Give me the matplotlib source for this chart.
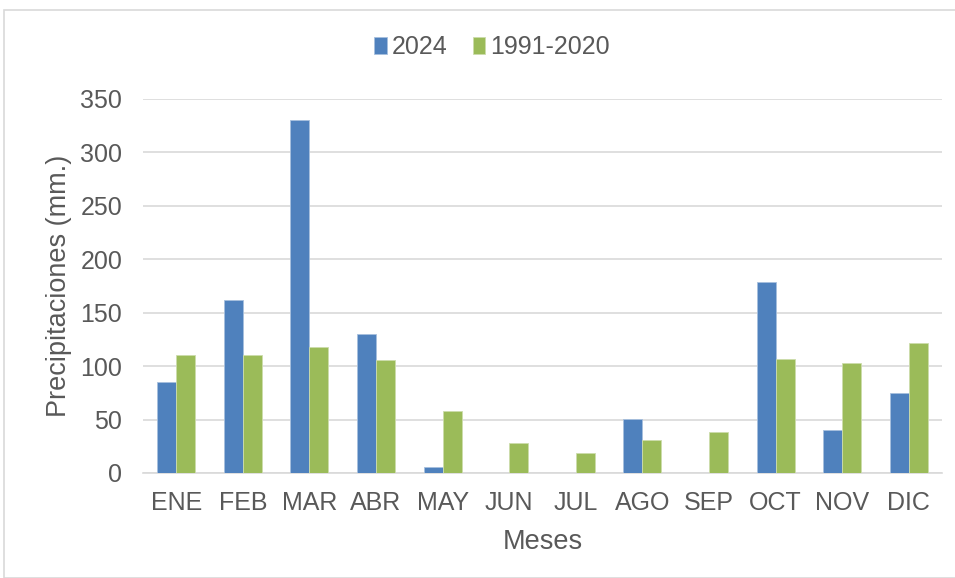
import numpy as np
import matplotlib.pyplot as plt
from matplotlib.patches import Rectangle

plt.rcParams['font.family'] = ['Liberation Sans', 'DejaVu Sans']

# monthly precipitation (mm)
meses = ["ENE", "FEB", "MAR", "ABR", "MAY", "JUN", "JUL", "AGO", "SEP", "OCT", "NOV", "DIC"]
prec_2024 = [85, 162, 330, 130, 5.5, 0, 0, 51, 0, 179, 40, 75]
prec_normal = [110, 110, 118, 106, 58, 28, 18.5, 31, 38.5, 106.5, 103, 122]

AZUL = "#4F81BD"
VERDE = "#9BBB59"
GRIS_TEXTO = "#595959"

fig = plt.figure(figsize=(9.55, 5.78), dpi=100)
ax = fig.add_axes([143 / 955, 1 - 473 / 578, 799 / 955, 374 / 578])

# light frame around the whole chart
fig.patches.append(Rectangle((4 / 955, 0), 1.0, 1 - 10 / 578, transform=fig.transFigure,
                             fill=False, edgecolor="#D9D9D9", linewidth=1.2))

x = np.arange(len(meses))
w = 0.285
ax.bar(x - w / 2, prec_2024, w, color=AZUL, edgecolor="#A7C0DE", linewidth=0.6, label="2024", zorder=3)
ax.bar(x + w / 2, prec_normal, w, color=VERDE, edgecolor="#CDDDAC", linewidth=0.6, label="1991-2020", zorder=3)

ax.set_xlim(-0.5, len(meses) - 0.5)
ax.set_ylim(0, 350)
ax.set_yticks(np.arange(0, 351, 50))
ax.set_xticks(x)
ax.set_xticklabels(meses)
ax.yaxis.grid(True, color="#D9D9D9", linewidth=1.2, zorder=0)
ax.set_axisbelow(True)
for s in ["top", "right", "left"]:
    ax.spines[s].set_visible(False)
ax.spines["bottom"].set_color("#D9D9D9")
ax.spines["bottom"].set_linewidth(1.2)
ax.tick_params(axis="both", length=0, labelsize=18, colors=GRIS_TEXTO)
ax.tick_params(axis="x", pad=13)
ax.tick_params(axis="y", pad=15)

ax.set_xlabel("Meses", fontsize=19.5, color=GRIS_TEXTO, labelpad=10)
ax.set_ylabel("Precipitaciones (mm.)", fontsize=19.5, color=GRIS_TEXTO, labelpad=6)

leg = fig.legend(loc="center", bbox_to_anchor=(492 / 955, 1 - 47 / 578), ncol=2, frameon=False,
                 fontsize=18, handlelength=0.5, handleheight=0.65, handletextpad=0.2,
                 columnspacing=1.0)
for t in leg.get_texts():
    t.set_color(GRIS_TEXTO)

fig.savefig("out.png", dpi=100)
